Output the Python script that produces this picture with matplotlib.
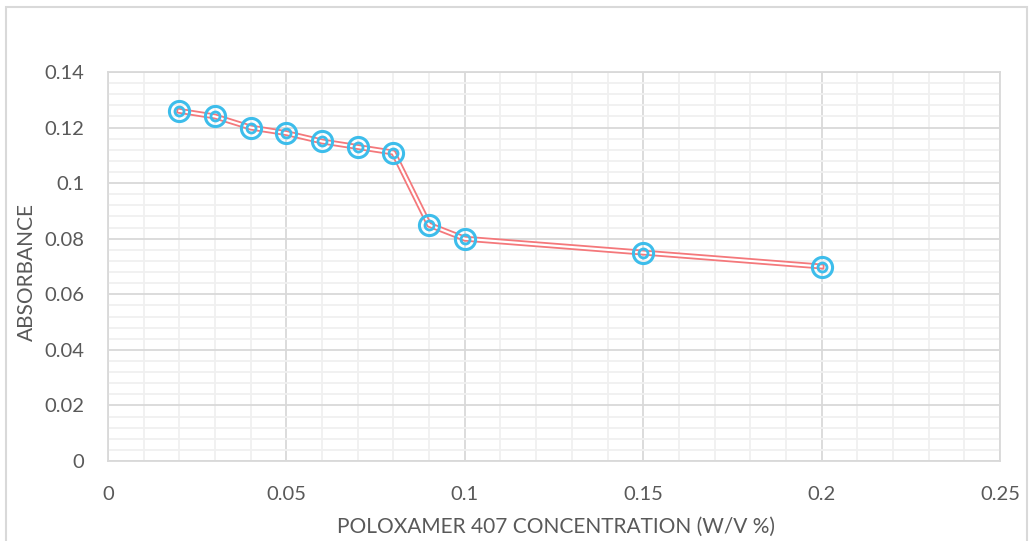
import matplotlib
matplotlib.use("Agg")
import matplotlib.pyplot as plt
from matplotlib.ticker import MultipleLocator, FuncFormatter
from matplotlib.patches import Rectangle

# Data
concentration = [0.02, 0.03, 0.04, 0.05, 0.06, 0.07, 0.08, 0.09, 0.1, 0.15, 0.2]
absorbance = [0.126, 0.124, 0.120, 0.118, 0.115, 0.113, 0.111, 0.085, 0.080, 0.075, 0.070]
x_label = "POLOXAMER 407 CONCENTRATION (W/V %)"
y_label = "ABSORBANCE"

# Styling
line_color = '#F4787B'
marker_color = '#3DBDEB'
text_color = '#595959'
major_grid = '#D9D9D9'
minor_grid = '#F0F0F0'

plt.rcParams['font.family'] = ['Lato', 'DejaVu Sans']

fig = plt.figure(figsize=(10.3, 5.41), dpi=100)
ax = fig.add_axes([108 / 1030, 1 - 461 / 541, 892 / 1030, 389 / 541])

# frame around the chart
fig.patches.append(Rectangle((6 / 1030, -0.01), 1021 / 1030, 1 - 7 / 541 + 0.01,
                             transform=fig.transFigure, fill=False,
                             edgecolor='#D9D9D9', linewidth=1.5))

ax.set_xlim(0, 0.25)
ax.set_ylim(0, 0.14)
ax.xaxis.set_major_locator(MultipleLocator(0.05))
ax.xaxis.set_minor_locator(MultipleLocator(0.01))
ax.yaxis.set_major_locator(MultipleLocator(0.02))
ax.yaxis.set_minor_locator(MultipleLocator(0.004))

fmt = FuncFormatter(lambda v, p: f"{v:.2f}".rstrip('0').rstrip('.') if v else "0")
ax.xaxis.set_major_formatter(fmt)
ax.yaxis.set_major_formatter(fmt)

ax.grid(which='major', color=major_grid, linewidth=1.3)
ax.grid(which='minor', color=minor_grid, linewidth=1.3)
ax.set_axisbelow(True)
for s in ax.spines.values():
    s.set_color(major_grid)
    s.set_linewidth(1.3)

ax.tick_params(which='both', length=0, colors=text_color, labelsize=14.5)
ax.tick_params(axis='x', pad=18)
ax.tick_params(axis='y', pad=17)

# double line
ax.plot(concentration, absorbance, color=line_color, linewidth=4.2, zorder=3)
ax.plot(concentration, absorbance, color='white', linewidth=1.6, zorder=3)
# bullseye markers
ax.plot(concentration, absorbance, linestyle='none', marker='o', markersize=14.5,
        markerfacecolor='none', markeredgecolor=marker_color, markeredgewidth=2.2, zorder=4)
ax.plot(concentration, absorbance, linestyle='none', marker='o', markersize=6.5,
        markerfacecolor='none', markeredgecolor=marker_color, markeredgewidth=2.0, zorder=4)

fig.text(556 / 1030, 1 - 527 / 541, x_label, ha='center', va='center',
         color=text_color, fontsize=15)
fig.text(27 / 1030, 1 - 272 / 541, y_label, ha='center', va='center',
         rotation=90, color=text_color, fontsize=15)

fig.savefig("out.png", dpi=100)
